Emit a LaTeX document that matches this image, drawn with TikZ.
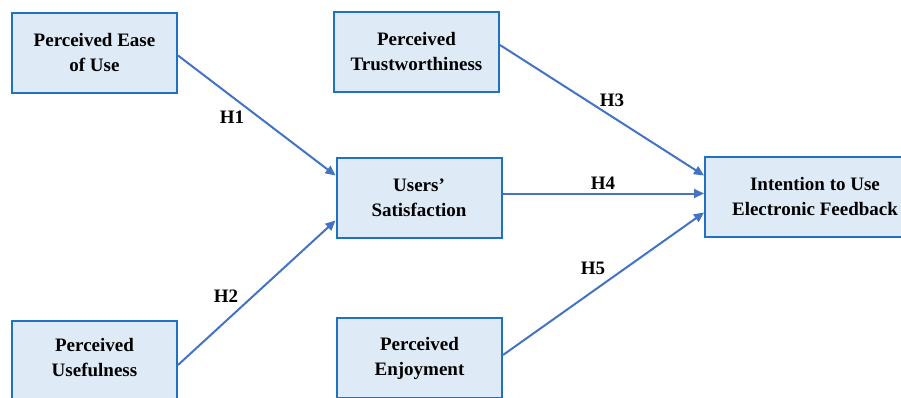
\documentclass[tikz,border=0pt]{standalone}
\usepackage{fontspec}
\setmainfont{Liberation Serif}
\usetikzlibrary{arrows.meta,calc}
\definecolor{boxfill}{HTML}{DEEBF7}
\definecolor{boxline}{HTML}{1F72C0}
\definecolor{arr}{HTML}{4472C4}
\begin{document}
\begin{tikzpicture}[x=1pt,y=-1pt,
  boxtext/.style={align=center,inner sep=0pt,font=\fontsize{19}{25}\selectfont\bfseries},
  cbox/.style={draw=boxline,line width=2pt,fill=boxfill,minimum width=165pt,minimum height=80pt,boxtext},
  link/.style={draw=arr,line width=2pt,-{Triangle[length=10pt,width=9pt]}},
  hlab/.style={font=\fontsize{19}{22}\selectfont\bfseries,inner sep=0pt}]
\useasboundingbox (0,0) rectangle (901,397);
\clip (0,0) rectangle (901,397);
\node[cbox] (peou) at (94.5,52.5) {Perceived Ease\\of Use};
\node[cbox] (pt)   at (416.5,52) {Perceived\\Trustworthiness};
\node[cbox] (sat)  at (419,197.5) {Users'\\Satisfaction};
\node[cbox,minimum width=220pt] (int) at (815,196.5) {Intention to Use\\Electronic Feedback};
\node[cbox,minimum height=86pt,label={[boxtext,yshift=6pt]center:Perceived\\Usefulness}] (pu) at (94.5,364) {};
\node[cbox] (pe)   at (419.5,358) {Perceived\\Enjoyment};
\draw[link] ([yshift=-3pt]peou.east) -- ([yshift=22pt]sat.west);
\draw[link] ([yshift=-1pt]pu.east) -- ([yshift=-23pt]sat.west);
\draw[link] ([yshift=7pt]pt.east) -- ([yshift=21pt]int.west);
\draw[link] ([yshift=4pt]sat.east) -- ([yshift=4pt]sat.east -| int.west);
\draw[link] ([yshift=3pt]pe.east) -- ([yshift=-16pt]int.west);
\node[hlab] (h1) at (232,117) {H1};
\node[hlab] (h2) at (226,296) {H2};
\node[hlab] (h3) at (612,100) {H3};
\node[hlab] (h4) at (603,183) {H4};
\node[hlab] (h5) at (593,268) {H5};
\end{tikzpicture}
\end{document}
